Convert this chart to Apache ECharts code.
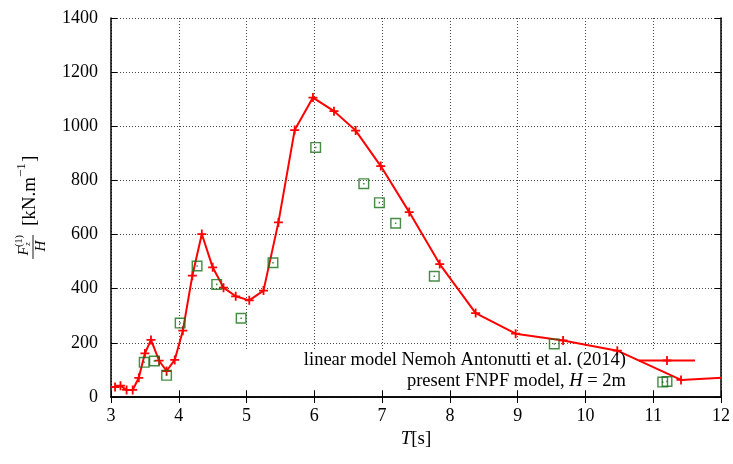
<!DOCTYPE html>
<html>
<head>
<meta charset="utf-8">
<script src="https://cdn.jsdelivr.net/npm/echarts@6/dist/echarts.min.js"></script>
<style>
  html, body { margin: 0; padding: 0; background: #fff; }
  #main { width: 733px; height: 464px; }
</style>
</head>
<body>
<div id="main"></div>
<script>
// wave period T [s] and force amplitude
const linearT = [3.06, 3.14, 3.23, 3.32, 3.41, 3.50, 3.59, 3.71, 3.82, 3.94, 4.06, 4.20, 4.34, 4.50, 4.66, 4.84, 5.04, 5.25, 5.47, 5.71, 5.98, 6.29, 6.61, 6.98, 7.40, 7.85, 8.38, 8.97, 9.67, 10.47, 11.41, 12.1]
const linearF = [37, 42, 26, 26, 71, 161, 211, 134, 96, 137, 245, 448, 602, 479, 404, 372, 357, 393, 645, 986, 1106, 1056, 984, 853, 683, 491, 310, 234, 209, 171, 63, 72]
const fnpfT = [3.49, 3.64, 3.82, 4.02, 4.27, 4.56, 4.92, 5.39, 6.02, 6.73, 6.96, 7.20, 7.77, 9.54, 11.14]
const fnpfF = [128, 133, 80, 273, 484, 416, 291, 496, 922, 788, 718, 642, 446, 196, 55]
const seriesNames = ['linear model Nemoh Antonutti et al. (2014)', 'present FNPF model, H = 2m']
const xTicks = { min: 3, max: 12, step: 1 }
const yTicks = { min: 0, max: 1400, step: 200 }

const font = 'Liberation Serif'
const plus = 'path://M4,0H6V4H10V6H6V10H4V6H0V4H4Z'
const boxDot = 'path://M0,0H10V10H0Z M1.3,1.3V8.7H8.7V1.3Z M4.3,4.3H5.7V5.7H4.3Z'

const chart = echarts.init(document.getElementById('main'))

const tickAxis = {
    axisLine: { show: true, lineStyle: { color: '#000', width: 1.5 } },
    axisTick: { show: true, inside: true, length: 6, lineStyle: { color: '#000', width: 1 } },
    splitLine: { show: false },
    axisLabel: { show: false }
}

const gridLine = { show: true, lineStyle: { color: '#444', width: 1, type: [1, 2] } }

chart.setOption({
    animation: false,
    backgroundColor: '#fff',
    grid: { left: 111, right: 12, top: 18, bottom: 67 },
    xAxis: [{
        type: 'value',
        min: xTicks.min, max: xTicks.max, interval: xTicks.step,
        axisLine: { show: true, onZero: false, lineStyle: { color: '#000', width: 1.5 } },
        axisTick: { show: true, inside: true, length: 6, lineStyle: { color: '#000' } },
        axisLabel: { color: '#000', fontFamily: font, fontSize: 18, margin: 10 },
        splitLine: gridLine,
        name: '{i|T}[s]',
        nameLocation: 'middle',
        nameGap: 32,
        nameTextStyle: {
            color: '#000', fontFamily: font, fontSize: 19,
            rich: { i: { fontStyle: 'italic', fontFamily: font, fontSize: 19, color: '#000' } }
        }
    }, Object.assign({
        type: 'value', position: 'top',
        min: xTicks.min, max: xTicks.max, interval: xTicks.step
    }, tickAxis)],
    yAxis: [{
        type: 'value',
        min: yTicks.min, max: yTicks.max, interval: yTicks.step,
        axisLine: { show: true, onZero: false, lineStyle: { color: '#000', width: 1.5 } },
        axisTick: { show: true, inside: true, length: 6, lineStyle: { color: '#000' } },
        axisLabel: { color: '#000', fontFamily: font, fontSize: 18, margin: 13, formatter: (v) => String(v) },
        splitLine: gridLine
    }, Object.assign({
        type: 'value', position: 'right',
        min: yTicks.min, max: yTicks.max, interval: yTicks.step
    }, tickAxis)],
    legend: {
        orient: 'vertical',
        align: 'right',
        right: 37,
        top: 350,
        padding: 0,
        itemWidth: 56,
        itemHeight: 11,
        itemGap: 0,
        data: seriesNames,
        formatter: (name) => name === seriesNames[1]
            ? '{n|present FNPF model, }{i|H}{n| = 2m}'
            : '{n|' + name + '}',
        textStyle: {
            color: '#000', fontFamily: font, fontSize: 18.5, lineHeight: 21, padding: [0, 8, 0, 0],
            rich: {
                n: { fontFamily: font, fontSize: 18.5, color: '#000' },
                i: { fontFamily: font, fontSize: 18.5, fontStyle: 'italic', color: '#000' }
            }
        }
    },
    graphic: [
        // opaque key box, hides the grid but not the data
        { type: 'rect', z: 1, silent: true, shape: { x: 113, y: 349, width: 606, height: 41 }, style: { fill: '#fff' } },
        {
            type: 'group', x: 33, y: 247, rotation: Math.PI / 2, z: 5,
            children: [
                { type: 'line', shape: { x1: -12, y1: 0, x2: 12, y2: 0 }, style: { stroke: '#000', lineWidth: 0.9 } },
                { type: 'text', x: -4, y: -1, style: { text: 'F', font: 'italic 15px "Liberation Serif"', fill: '#000', textAlign: 'center', textVerticalAlign: 'bottom' } },
                { type: 'text', x: 6, y: -14, style: { text: '(1)', font: '10px "Liberation Serif"', fill: '#000', textAlign: 'center', textVerticalAlign: 'middle' } },
                { type: 'text', x: 3, y: -5, style: { text: 'z', font: 'italic 9px "Liberation Serif"', fill: '#000', textAlign: 'center', textVerticalAlign: 'middle' } },
                { type: 'text', x: 1, y: 1, style: { text: 'H', font: 'italic 15px "Liberation Serif"', fill: '#000', textAlign: 'center', textVerticalAlign: 'top' } },
                { type: 'text', x: 21, y: -3, style: { text: '[kN.m', font: '19px "Liberation Serif"', fill: '#000', textAlign: 'left', textVerticalAlign: 'middle' } },
                { type: 'text', x: 70, y: -11, style: { text: '−1', font: '13px "Liberation Serif"', fill: '#000', textAlign: 'left', textVerticalAlign: 'middle' } },
                { type: 'text', x: 85, y: -3, style: { text: ']', font: '19px "Liberation Serif"', fill: '#000', textAlign: 'left', textVerticalAlign: 'middle' } }
            ]
        }
    ],
    series: [{
        name: seriesNames[0],
        type: 'line',
        data: linearT.map((t, i) => [t, linearF[i]]),
        clip: true,
        symbol: plus,
        symbolSize: 9,
        showAllSymbol: true,
        color: '#ff0000',
        lineStyle: { color: '#ff0000', width: 2 },
        itemStyle: { color: '#ff0000' },
        z: 3
    }, {
        name: seriesNames[1],
        type: 'scatter',
        data: fnpfT.map((t, i) => [t, fnpfF[i]]),
        symbol: boxDot,
        symbolSize: 11,
        color: '#177017',
        itemStyle: { color: '#177017' },
        z: 4
    }]
})
</script>
</body>
</html>
